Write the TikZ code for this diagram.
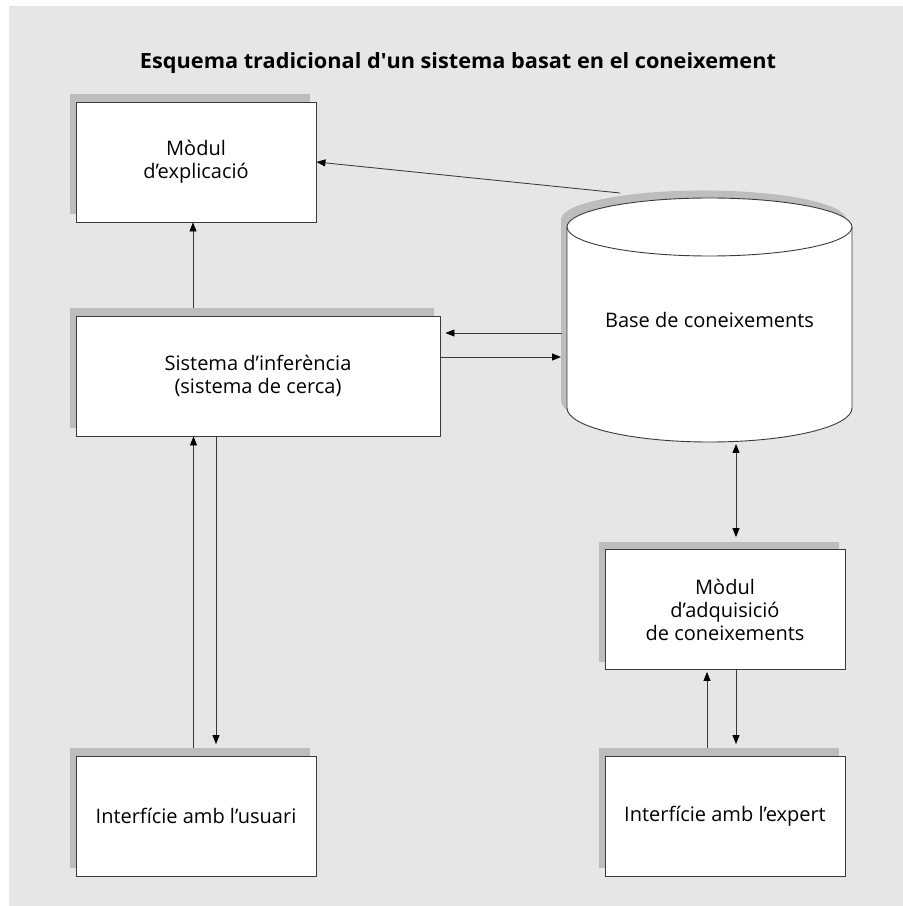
\documentclass[tikz,border=0pt]{standalone}
\usepackage{fontspec}
\setmainfont{Open Sans}
\usetikzlibrary{arrows.meta,calc}
\definecolor{panel}{HTML}{E6E6E6}
\definecolor{shade}{HTML}{BDBDBD}
\definecolor{edge}{HTML}{3A3A3A}
\begin{document}
\begin{tikzpicture}[x=1pt,y=1pt,
  bodyfont/.style={font=\fontsize{20}{23}\selectfont},
  dropshade/.style={preaction={fill=shade, transform canvas={shift={(-6pt,7.5pt)}}}},
  box/.style={draw=edge, line width=0.9pt, fill=white, dropshade,
    minimum width=240pt, minimum height=120pt, inner sep=0pt,
    align=center, bodyfont},
  link/.style={draw=edge, line width=0.85pt,
    -{Triangle[length=9pt,width=7pt,fill=black,color=black]}},
  twoway/.style={draw=edge, line width=0.85pt,
    {Triangle[length=9pt,width=7pt,fill=black,color=black]}-{Triangle[length=9pt,width=7pt,fill=black,color=black]}},
]
\useasboundingbox (0,0) rectangle (903,906);
\fill[panel] (9,0) rectangle (903,900);

% title
\node[anchor=base, inner sep=0pt] (title) at (458,837)
  {\resizebox{636pt}{\height}{\fontsize{21}{25}\selectfont\bfseries
   Esquema tradicional d\textquotesingle un sistema basat en el coneixement}};

% knowledge base drawn as a cylinder
\path[draw=edge, line width=0.9pt, fill=white, dropshade]
  (567,679) -- (567,498)
  arc[start angle=180, end angle=360, x radius=142.5, y radius=34]
  -- (852,679)
  arc[start angle=0, end angle=180, x radius=142.5, y radius=29] -- cycle;
\draw[edge, line width=0.9pt]
  (567,679) arc[start angle=180, end angle=360, x radius=142.5, y radius=29];
\node[bodyfont] (kb) at (709.5,586) {Base de coneixements};
\coordinate (kbtop) at (620,713);
\coordinate (kbin)  at (562,573);
\coordinate (kbout) at (561,549);
\coordinate (kbbot) at (736,462);

% boxes
\node[box] (expl) at (196,744) {Mòdul\\d’explicació};
\node[box, minimum width=364pt] (inf) at (258,530) {Sistema d’inferència\\(sistema de cerca)};
\node[box] (acq) at (725,296.5) {Mòdul\\d’adquisició\\de coneixements};
\node[box] (user) at (196,90) {Interfície amb l’usuari};
\node[box] (expert) at (725,90) {Interfície amb l’expert};

% connectors
\draw[link] (kbtop) -- (expl.east);
\draw[link, shorten >=5pt] (kbin) -- (inf.east |- kbin);
\draw[link] (inf.east |- kbout) -- (kbout);
\draw[link] ($(inf.north -| expl.south)+(-3,7.5)$) -- ($(expl.south)+(-3,0)$);
\draw[link] ($(user.north)+(-2.5,7.5)$) -- ($(inf.south -| user.north)+(-2.5,0)$);
\draw[link, shorten >=4pt] ($(inf.south -| user.north)+(20,0)$) -- ($(user.north)+(20,7.5)$);
\draw[twoway, shorten >=4.5pt] (kbbot) -- ($(acq.north -| kbbot)+(0,7.5)$);
\draw[link, shorten >=2pt] ($(expert.north)+(-18,7.5)$) -- ($(acq.south)+(-18,0)$);
\draw[link, shorten >=4pt] ($(acq.south)+(11,0)$) -- ($(expert.north)+(11,7.5)$);
\end{tikzpicture}
\end{document}
